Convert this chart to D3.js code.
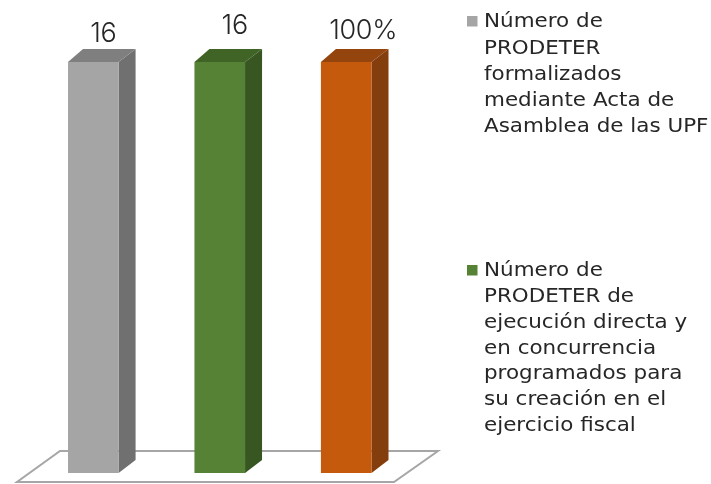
<!DOCTYPE html>
<html><head><meta charset="utf-8">
<script src="https://cdn.jsdelivr.net/npm/d3@7"></script>
<style>html,body{margin:0;padding:0;background:#fff}svg{display:block}text{font-family:"DejaVu Sans",sans-serif;fill:#262626}text.val{font-family:Inter,sans-serif;font-weight:300}</style>
</head><body><svg id="c" width="711" height="484"></svg>
<script>
const categories = ["a","b","c"];
const plotted = [100,100,100];
const valueLabels = ["16","16","100%"];
const frontColors = ["#a5a5a5","#548235","#c55a11"];
const sideColors = ["#6f6f6f","#385723","#843c0c"];
const topColors = ["#7f7f7f","#3f6326","#94440d"];
const legendTitles = [
 ["Número de","PRODETER","formalizados","mediante Acta de","Asamblea de las UPF"],
 ["Número de","PRODETER de","ejecución directa y","en concurrencia","programados para","su creación en el","ejercicio fiscal"]
];
const legendColors = ["#a5a5a5","#548235"];

const labelOffsetX = [10,15,17];
const labelBaseline = [41.5,33.5,39];
const legendTop = [21,270];
const legendStep = [26.2,25.7];

const svg = d3.select("#c");
const defs = svg.append("defs");
defs.append("filter").attr("id","soft").append("feGaussianBlur").attr("stdDeviation",0.5);
const root = svg.append("g").attr("filter","url(#soft)");

const x = d3.scaleBand().domain(categories).range([68,371.5]).paddingInner(0.6).paddingOuter(0);
const y = d3.scaleLinear().domain([0,100]).range([473,62]);
const dx = 17, dy = 13;
const line = d3.line();

root.append("path")
  .attr("d", line([[60,451],[438,451],[394,482],[17,482]])+"Z")
  .attr("fill","#fff").attr("stroke","#a6a6a6").attr("stroke-width",2);

const bars = root.selectAll(".bar").data(categories).join("g").attr("class","bar");
bars.each(function(c,i){
  const g = d3.select(this);
  const l = x(c), r = l + x.bandwidth(), t = y(plotted[i]), b = y(0);
  g.append("path").attr("d", line([[r,t],[r+dx,t-dy],[r+dx,b-dy],[r,b]])+"Z").attr("fill",sideColors[i]);
  g.append("path").attr("d", line([[l,t],[l+dx-2,t-dy],[r+dx,t-dy],[r,t]])+"Z").attr("fill",topColors[i]);
  g.append("rect").attr("x",l).attr("y",t).attr("width",x.bandwidth()).attr("height",b-t).attr("fill",frontColors[i]);
  g.append("text").attr("class","val").attr("x",(l+r)/2+labelOffsetX[i]).attr("y",labelBaseline[i]).attr("text-anchor","middle")
   .attr("font-size",27).attr("letter-spacing",-0.3).text(valueLabels[i]);
});

legendTitles.forEach((lines,k)=>{
  root.append("rect").attr("x",467).attr("y",legendTop[k]-5).attr("width",10.5).attr("height",10.5).attr("fill",legendColors[k]);
  const t = root.append("text").attr("font-size",19).attr("transform","translate(484,0) scale(1.13,1)");
  lines.forEach((s,j)=>{
    t.append("tspan").attr("x",0).attr("y",legendTop[k]+6.5+j*legendStep[k]).text(s);
  });
});
</script></body></html>
